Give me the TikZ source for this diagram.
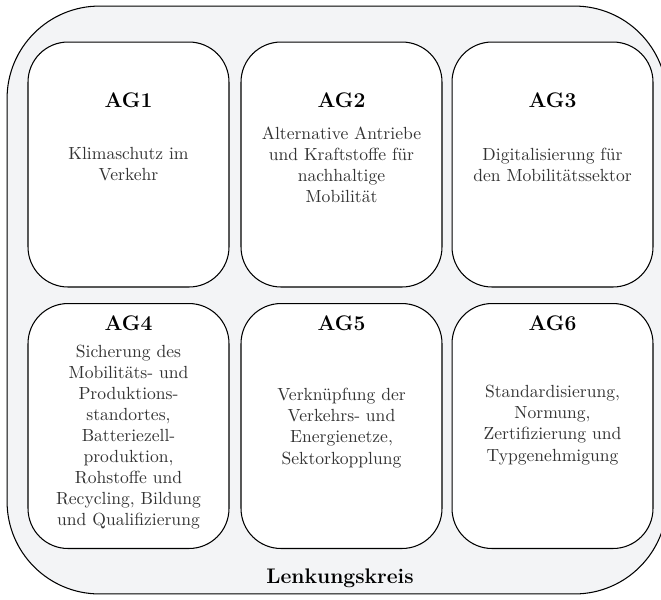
\documentclass[tikz,border=0pt]{standalone}
\usepackage{fontspec}
\definecolor{kreisgrau}{RGB}{243,244,246}
\begin{document}
\begin{tikzpicture}[x=0.02cm, y=-0.02cm,
    ag/.style={draw, rounded corners=0.8cm, fill=white, minimum width=4.02cm, minimum height=4.9cm, line width=0.6pt},
    agtitle/.style={font=\large\bfseries},
    agtext/.style={align=center, text=black!80}]
    \useasboundingbox (0,0) rectangle (661,599);
    % Lenkungskreis
    \node[draw, rounded corners=1.85cm, fill=kreisgrau, minimum width=13.2cm, minimum height=11.76cm, line width=0.6pt] (kreis) at (337,300) {};
    \node[font=\large\bfseries] (kreislabel) at (340,578) {Lenkungskreis};
    
    % Arbeitsgruppen
    \foreach \i/\x/\y in {1/128.5/164.5, 2/341.5/164.5, 3/552.5/164.5, 4/128.5/426, 5/341.5/426, 6/552.5/426} {
        \node[ag] (ag\i) at (\x,\y) {};
    }
    
    % Titel
    \foreach \i/\x/\y in {1/128.5/100, 2/341.5/100, 3/552.5/100, 4/128.5/323, 5/341.5/323, 6/552.5/323} {
        \node[agtitle] (title\i) at (\x,\y) {AG\i};
    }
    
    % Themen
    \node[agtext] (text1) at (128.5,164.5) {Klimaschutz im\\Verkehr};
    \node[agtext] (text2) at (341.5,164.5) {Alternative Antriebe\\und Kraftstoffe für\\nachhaltige\\Mobilität};
    \node[agtext] (text3) at (552.5,164.5) {Digitalisierung für\\den Mobilitätssektor};
    \node[agtext] (text4) at (128.5,437) {Sicherung des\\Mobilitäts- und\\Produktions-\\standortes,\\Batteriezell-\\produktion,\\Rohstoffe und\\Recycling, Bildung\\und Qualifizierung};
    \node[agtext] (text5) at (341.5,428) {Verknüpfung der\\Verkehrs- und\\Energienetze,\\Sektorkopplung};
    \node[agtext] (text6) at (552.5,425) {Standardisierung,\\Normung,\\Zertifizierung und\\Typgenehmigung};
\end{tikzpicture}
\end{document}
